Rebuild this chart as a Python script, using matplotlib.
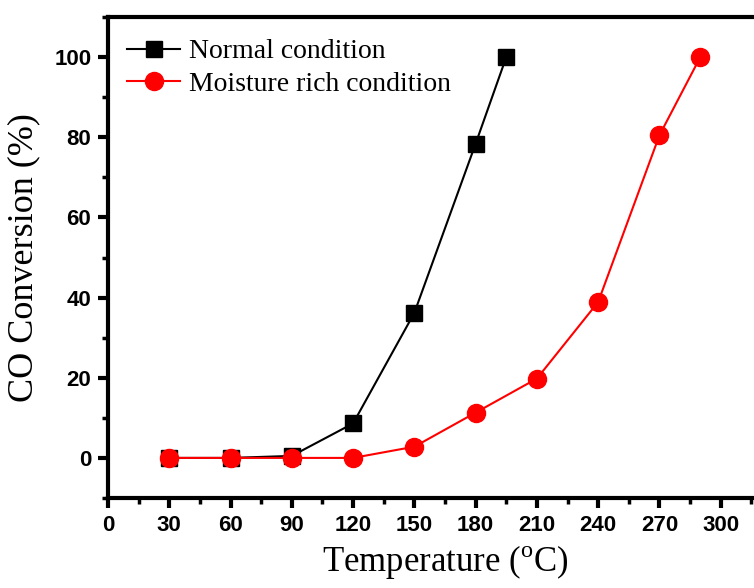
import matplotlib
matplotlib.use("Agg")
import matplotlib.pyplot as plt
from matplotlib.ticker import MultipleLocator

plt.rcParams["mathtext.fontset"] = "custom"
plt.rcParams["mathtext.rm"] = "Liberation Serif"

temp_normal = [30, 60, 90, 120, 150, 180, 195]
conv_normal = [0, 0, 0.5, 8.6, 36.2, 78.4, 100]

temp_moist = [30, 60, 90, 120, 150, 180, 210, 240, 270, 290]
conv_moist = [0, 0, 0, 0, 2.8, 11.3, 19.8, 38.9, 80.5, 100]

x_ticks = [0, 30, 60, 90, 120, 150, 180, 210, 240, 270, 300]
y_ticks = [0, 20, 40, 60, 80, 100]

fig = plt.figure(figsize=(7.54, 5.88), dpi=100)
# axes runs past the right edge of the figure, like the cropped original
ax = fig.add_axes([108 / 754, 90 / 588, 674 / 754, 481 / 588])

ax.plot(temp_normal, conv_normal, color="black", lw=1.5, marker="s",
        markersize=11, label="Normal condition")
ax.plot(temp_moist, conv_moist, color="red", lw=1.5, marker="o",
        markersize=13, label="Moisture rich condition")

ax.set_xlim(0, 330)
ax.set_ylim(-10, 110)
ax.set_xticks(x_ticks)
ax.set_yticks(y_ticks)
ax.xaxis.set_minor_locator(MultipleLocator(15))
ax.yaxis.set_minor_locator(MultipleLocator(10))

for s in ax.spines.values():
    s.set_linewidth(3)
ax.tick_params(which="major", direction="out", length=7, width=3,
               labelsize=16, pad=5)
ax.tick_params(which="minor", direction="out", length=4, width=2.5)
for lab in ax.get_xticklabels() + ax.get_yticklabels():
    lab.set_fontweight("bold")
    lab.set_fontfamily("Liberation Sans")

ax.set_xlabel(r"Temperature ($^{\mathrm{o}}$C)", fontsize=25,
              family="Liberation Serif", labelpad=5)
ax.set_ylabel("CO Conversion (%)", fontsize=26,
              family="Liberation Serif", labelpad=10)

ax.legend(loc="upper left", frameon=False,
          prop={"family": "Liberation Serif", "size": 20},
          handlelength=1.9, handletextpad=0.3, labelspacing=0.25,
          borderaxespad=0.3, bbox_to_anchor=(0.0, 0.995))

fig.savefig("out.png", dpi=100)
